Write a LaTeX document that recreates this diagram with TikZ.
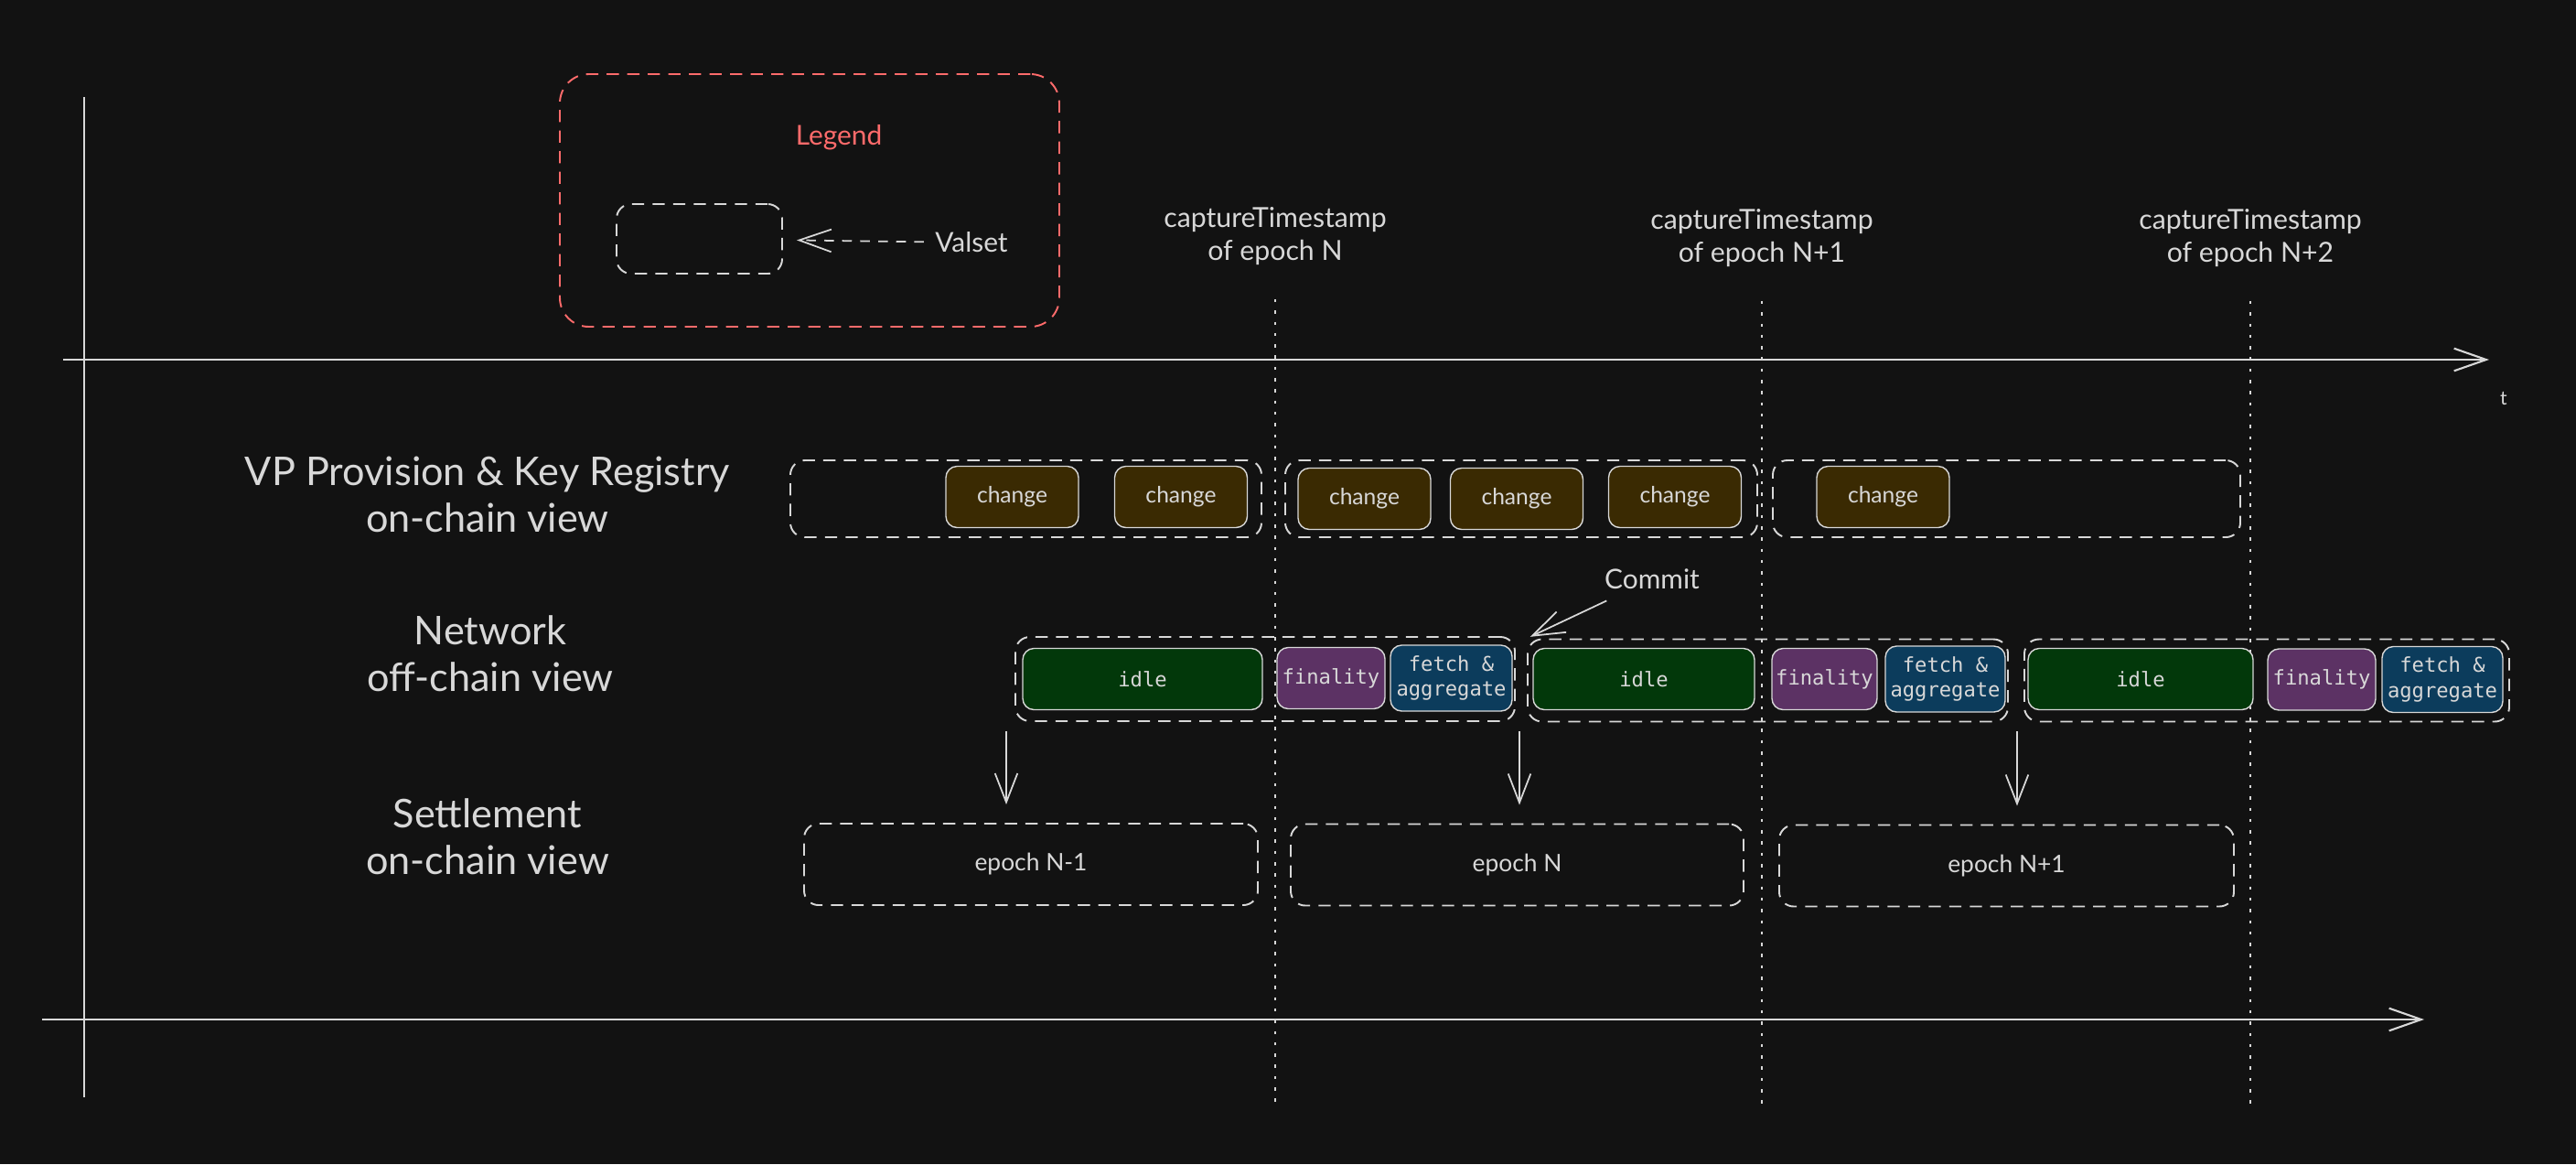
\documentclass[tikz,border=0pt]{standalone}
\usepackage{fontspec}
\setmainfont{Lato}
\setmonofont{DejaVu Sans Mono}
\usetikzlibrary{arrows.meta}
\definecolor{canvas}{HTML}{121212}
\definecolor{ink}{HTML}{D8D8D8}
\definecolor{legendred}{HTML}{FF6B6B}
\definecolor{changefill}{HTML}{3A2A02}
\definecolor{idlefill}{HTML}{02380A}
\definecolor{finalfill}{HTML}{5C3264}
\definecolor{fetchfill}{HTML}{0C3C5C}
\newcommand{\slotheight}{0.67cm}
\newcommand{\monolabel}{\ttfamily\fontsize{6.3}{7.9}\selectfont}
\tikzstyle{lane}=[draw=ink, line width=0.55pt, dash pattern=on 3.8pt off 2.6pt, rounded corners=4.5pt, inner sep=0, text=ink]
\tikzstyle{slot}=[draw=ink, line width=0.4pt, rounded corners=3.5pt, inner sep=0, minimum height=\slotheight, text=ink]
\tikzstyle{changebox}=[slot, fill=changefill, minimum width=1.45cm, font=\fontsize{7}{8}\selectfont]
\tikzstyle{idlebox}=[slot, fill=idlefill, font=\monolabel]
\tikzstyle{finalbox}=[slot, fill=finalfill, font=\monolabel]
\tikzstyle{fetchbox}=[slot, fill=fetchfill, minimum height=0.72cm, align=center, font=\monolabel]
\tikzstyle{rowlabel}=[text=ink, align=center, font=\fontsize{12.3}{14.5}\selectfont]
\tikzstyle{caplabel}=[text=ink, align=center, font=\fontsize{8.6}{10.2}\selectfont]
\tikzstyle{remark}=[text=ink, font=\fontsize{8.5}{10}\selectfont]
\tikzstyle{axis}=[draw=ink, line width=0.6pt]
\tikzstyle{timeline}=[axis, -{Straight Barb[length=10pt, width=7pt]}]
\tikzstyle{capline}=[draw=ink, line width=0.5pt, dash pattern=on 1pt off 2.5pt, shorten <=0.25cm]
\tikzstyle{handoff}=[draw=ink, line width=0.5pt, -{Straight Barb[length=9pt, width=7pt]}, shorten <=0.1cm, shorten >=0.2cm]
\tikzstyle{pointer}=[draw=ink, line width=0.5pt, -{Straight Barb[length=10pt, width=7pt]}]

\begin{document}
\begin{tikzpicture}[x=1cm, y=-1cm]
    \fill[canvas] (0, 0) rectangle (28.16, 12.72);
    \useasboundingbox (0, 0) rectangle (28.16, 12.72);

    % axes
    \coordinate (yTop) at (0.92, 1.06);
    \coordinate (yBot) at (0.92, 11.99);
    \coordinate (tA0) at (0.69, 3.93);
    \coordinate (tA1) at (27.21, 3.93);
    \coordinate (tB0) at (0.46, 11.14);
    \coordinate (tB1) at (26.50, 11.14);
    \coordinate (floor) at (0, 12.07);
    \draw[axis] (yTop) -- (yBot);
    \draw[timeline] (tA0) -- (tA1);
    \draw[timeline] (tB0) -- (tB1);
    \node[text=ink, font=\fontsize{6}{7}\selectfont] (tlabel) at (27.37, 4.35) {t};

    % legend
    \node[lane, draw=legendred, rounded corners=9pt, minimum width=5.46cm, minimum height=2.76cm] (legend) at (8.85, 2.19) {};
    \node[text=legendred, font=\fontsize{8.5}{10}\selectfont] (legendtitle) at (9.17, 1.50) {Legend};
    \node[lane, minimum width=1.81cm, minimum height=0.76cm] (sample) at (7.645, 2.61) {};
    \node[remark] (valset) at (10.62, 2.65) {Valset};
    \draw[pointer, dash pattern=on 3pt off 2.6pt, shorten >=0.15cm] (valset) -- (sample);

    % capture timestamps
    \node[caplabel] (cap1) at (13.94, 2.58) {captureTimestamp\\of epoch N};
    \node[caplabel] (cap2) at (19.26, 2.60) {captureTimestamp\\of epoch N+1};
    \node[caplabel] (cap3) at (24.60, 2.60) {captureTimestamp\\of epoch N+2};
    \draw[capline] (cap1.south) -- (cap1.south |- floor);
    \draw[capline] (cap2.south) -- (cap2.south |- floor);
    \draw[capline] (cap3.south) -- (cap3.south |- floor);

    % row labels
    \node[rowlabel] (vpLabel) at (5.33, 5.40) {VP Provision \& Key Registry\\on-chain view};
    \node[rowlabel] (netLabel) at (5.36, 7.14) {Network\\off-chain view};
    \node[rowlabel] (setLabel) at (5.33, 9.14) {Settlement\\on-chain view};

    % VP provision row
    \node[lane, minimum width=5.15cm, minimum height=0.84cm] (vpA) at (11.215, 5.45) {};
    \node[lane, minimum width=5.16cm, minimum height=0.84cm] (vpB) at (16.63, 5.45) {};
    \node[lane, minimum width=5.11cm, minimum height=0.84cm] (vpC) at (21.935, 5.45) {};
    \node[changebox] (ch1) at (11.065, 5.43) {change};
    \node[changebox] (ch2) at (12.91, 5.43) {change};
    \node[changebox] (ch3) at (14.915, 5.45) {change};
    \node[changebox] (ch4) at (16.58, 5.45) {change};
    \node[changebox] (ch5) at (18.31, 5.43) {change};
    \node[changebox] (ch6) at (20.585, 5.43) {change};

    % network row
    \node[lane, minimum width=5.46cm, minimum height=0.92cm] (netA) at (13.83, 7.42) {};
    \node[lane, minimum width=5.25cm, minimum height=0.90cm] (netB) at (19.325, 7.435) {};
    \node[lane, minimum width=5.30cm, minimum height=0.90cm] (netC) at (24.78, 7.435) {};
    \node[idlebox, minimum width=2.62cm] (idle1) at (12.49, 7.42) {idle};
    \node[finalbox, minimum width=1.18cm] (fin1) at (14.55, 7.41) {finality};
    \node[fetchbox, minimum width=1.33cm] (fetch1) at (15.865, 7.41) {fetch \&\\aggregate};
    \node[idlebox, minimum width=2.42cm] (idle2) at (17.97, 7.42) {idle};
    \node[finalbox, minimum width=1.15cm] (fin2) at (19.945, 7.42) {finality};
    \node[fetchbox, minimum width=1.31cm] (fetch2) at (21.265, 7.42) {fetch \&\\aggregate};
    \node[idlebox, minimum width=2.46cm] (idle3) at (23.40, 7.42) {idle};
    \node[finalbox, minimum width=1.18cm] (fin3) at (25.38, 7.425) {finality};
    \node[fetchbox, minimum width=1.32cm] (fetch3) at (26.70, 7.425) {fetch \&\\aggregate};

    \node[remark] (commit) at (18.06, 6.33) {Commit};
    \draw[pointer, shorten >=0.04cm] (commit) -- (netB.north west);

    % settlement row
    \node[lane, minimum width=4.96cm, minimum height=0.89cm, font=\fontsize{7.5}{9}\selectfont] (set1) at (11.27, 9.445) {epoch N-1};
    \node[lane, minimum width=4.95cm, minimum height=0.89cm, font=\fontsize{7.5}{9}\selectfont] (set2) at (16.585, 9.45) {epoch N};
    \node[lane, minimum width=4.97cm, minimum height=0.89cm, font=\fontsize{7.5}{9}\selectfont] (set3) at (21.935, 9.46) {epoch N+1};

    \coordinate (fall1) at (11.00, 8.00);
    \coordinate (fall2) at (16.61, 8.00);
    \coordinate (fall3) at (22.05, 8.00);
    \draw[handoff] (fall1 |- netA.south) -- (fall1 |- set1.north);
    \draw[handoff] (fall2 |- netB.south) -- (fall2 |- set2.north);
    \draw[handoff] (fall3 |- netC.south) -- (fall3 |- set3.north);
\end{tikzpicture}
\end{document}
